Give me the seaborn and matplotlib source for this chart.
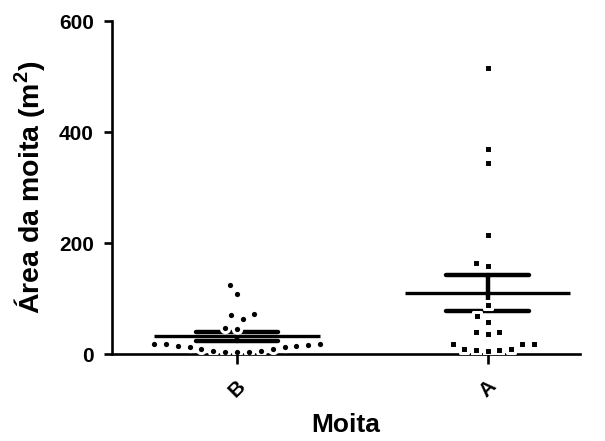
import pandas as pd
import seaborn as sns
from matplotlib import pyplot as plt

# values (m^2)
groups = ['B', 'A']
area_b = [124, 108, 72, 70, 64, 47, 46, 19, 18, 15, 12, 9, 6, 4, 3,
          4, 6, 9.5, 12, 15, 17, 19]
area_a = [516, 370, 345, 214, 164, 158, 88, 69, 58, 40, 37, 40,
          19, 9, 7, 6, 7, 9, 19, 19]
y_ticks = [0, 200, 400, 600]

df = pd.DataFrame({
    'Moita': ['B'] * len(area_b) + ['A'] * len(area_a),
    'area': area_b + area_a,
})

sns.set_style('ticks')
plt.rcParams.update({
    'font.family': ['Liberation Sans', 'DejaVu Sans'],
    'font.weight': 'bold',
    'axes.labelweight': 'bold',
    'axes.linewidth': 1.9,
    'axes.edgecolor': 'black',
    'axes.labelcolor': 'black',
    'text.color': 'black',
    'xtick.color': 'black',
    'ytick.color': 'black',
    'mathtext.fontset': 'custom',
    'mathtext.rm': 'Liberation Sans:bold',
    'mathtext.bf': 'Liberation Sans:bold',
})

fig = plt.figure(figsize=(6.05, 4.41), dpi=100)
ax = fig.add_axes([0.185, 0.197, 0.774, 0.755])

# column scatter: white edge keeps the small dots apart like the original
sns.swarmplot(data=df[df['Moita'] == 'B'], x='Moita', y='area', order=groups,
              marker='o', size=6.0, color='black', edgecolor='white',
              linewidth=2.2, ax=ax)
sns.swarmplot(data=df[df['Moita'] == 'A'], x='Moita', y='area', order=groups,
              marker='s', size=6.0, color='black', edgecolor='white',
              linewidth=2.2, ax=ax)

# mean +/- SEM
sns.pointplot(data=df, x='Moita', y='area', order=groups, errorbar='se',
              capsize=0.33, linestyle='none', marker='', color='black',
              err_kws={'linewidth': 3.2}, ax=ax)
means = df.groupby('Moita')['area'].mean().reindex(groups)
for i, g in enumerate(groups):
    ax.hlines(means[g], i - 0.33, i + 0.33, color='black', lw=2.4, zorder=3)

ax.set_xlim(-0.5, 1.37)
ax.set_ylim(0, 600)
ax.set_yticks(y_ticks)
sns.despine(ax=ax)
ax.tick_params(axis='both', direction='out', length=6, width=1.9,
               labelsize=15, pad=7, color='black', labelcolor='black')
ax.tick_params(axis='x', length=7, pad=9)
plt.setp(ax.get_xticklabels(), rotation=45, ha='center', fontweight='bold')
plt.setp(ax.get_yticklabels(), fontweight='bold')

ax.set_xlabel('Moita', fontsize=19, fontweight='bold', labelpad=9)
ax.set_ylabel(r'Área da moita (m$^\mathbf{2}$)', fontsize=20.5,
              fontweight='bold', labelpad=8)

plt.savefig('out.png', dpi=100)
plt.close()
